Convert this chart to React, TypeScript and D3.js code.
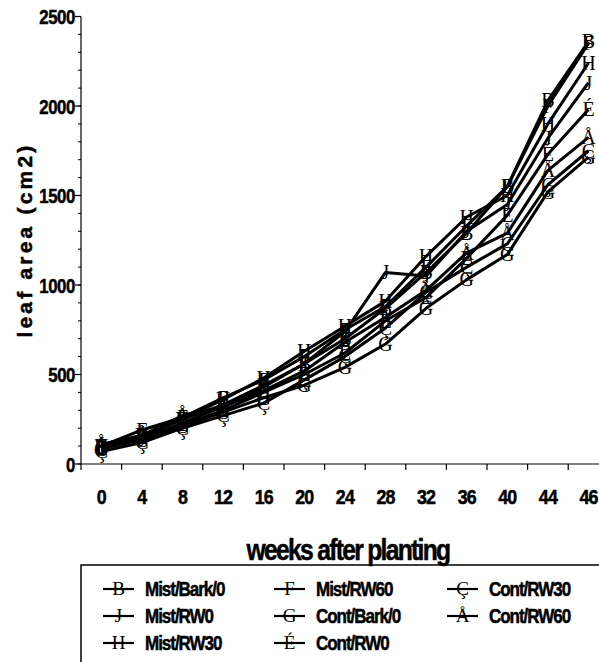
import React from "react";
import * as d3 from "d3";

const weeks = ["0", "4", "8", "12", "16", "20", "24", "28", "32", "36", "40", "44", "46"];

const seriesNames = ["Mist/Bark/0", "Mist/RW0", "Mist/RW30", "Mist/RW60", "Cont/Bark/0", "Cont/RW0", "Cont/RW30", "Cont/RW60"];
const seriesMarkers = ["B", "J", "H", "F", "G", "É", "Ç", "Å"];

const mistBark0 = [95, 150, 250, 330, 440, 560, 700, 870, 1070, 1290, 1550, 2030, 2360];
const mistRW0 = [90, 140, 230, 320, 430, 560, 740, 1070, 1050, 1300, 1450, 1820, 2130];
const mistRW30 = [100, 160, 250, 360, 480, 630, 770, 910, 1160, 1380, 1500, 1900, 2240];
const mistRW60 = [100, 190, 260, 370, 470, 600, 750, 880, 1100, 1330, 1550, 2000, 2350];
const contBark0 = [85, 135, 210, 290, 370, 440, 540, 670, 870, 1030, 1170, 1520, 1715];
const contRW0 = [90, 150, 220, 300, 400, 500, 620, 800, 930, 1150, 1390, 1730, 1980];
const contRW30 = [70, 120, 200, 270, 340, 470, 600, 760, 960, 1100, 1230, 1560, 1750];
const contRW60 = [110, 160, 270, 320, 410, 520, 680, 820, 970, 1180, 1290, 1640, 1825];

const seriesValues = [mistBark0, mistRW0, mistRW30, mistRW60, contBark0, contRW0, contRW30, contRW60];

const yTicks = [0, 500, 1000, 1500, 2000, 2500];
const yMinorTicks = d3.range(0, 2501, 100);

const legendOrder = [0, 1, 2, 3, 4, 5, 6, 7];

const W = 599;
const H = 662;
const x0 = 81;
const bandW = 40.6;
const x = d3.scaleBand<string>().domain(weeks).range([x0, x0 + bandW * weeks.length]).padding(0);
const y = d3.scaleLinear().domain([0, 2500]).range([464, 16.5]);

const sans = "'Liberation Sans', Arial, sans-serif";
const serif = "'Liberation Serif', 'Times New Roman', serif";

export default function App() {
  const line = d3
    .line<number>()
    .x((_, i) => (x(weeks[i]) as number) + x.bandwidth() / 2)
    .y((d) => y(d));

  const legendCols = [103, 274, 447];
  const legendRows = [589, 616, 643];
  const heavy = { stroke: "#000", strokeWidth: 0.5 };

  return (
    <svg width={W} height={H} style={{ position: "absolute", left: 0, top: 0, background: "#fff" }}>
      <rect x={0} y={0} width={W} height={H} fill="#fff" />
      {/* Y axis */}
      <line x1={x0} x2={x0} y1={y(2500)} y2={y(0)} stroke="#000" strokeWidth={1.2} />
      {yMinorTicks.map((t) => (
        <line key={"m" + t} x1={x0 - 3} x2={x0} y1={y(t)} y2={y(t)} stroke="#000" strokeWidth={1} />
      ))}
      {yTicks.map((t) => (
        <g key={t}>
          <line x1={x0 - 6} x2={x0} y1={y(t)} y2={y(t)} stroke="#000" strokeWidth={1.2} />
          <g transform={`translate(${x0 - 6},${y(t)}) scale(0.8,1)`}>
            <text
              x={0}
              y={0}
              dy="0.36em"
              textAnchor="end"
              fontFamily={sans}
              fontWeight="bold"
              fontSize={21}
              letterSpacing={-0.5}
              {...heavy}
            >
              {t}
            </text>
          </g>
        </g>
      ))}
      {/* X axis */}
      <line x1={x0} x2={W} y1={y(0)} y2={y(0)} stroke="#000" strokeWidth={1.2} />
      {weeks.map((w) => (
        <g key={w}>
          <line
            x1={x(w) as number}
            x2={x(w) as number}
            y1={y(0)}
            y2={y(0) + 6}
            stroke="#000"
            strokeWidth={1.2}
          />
          <g transform={`translate(${(x(w) as number) + x.bandwidth() / 2},496) scale(0.85,1)`}>
            <text
              x={0}
              y={0}
              dy="0.36em"
              textAnchor="middle"
              fontFamily={sans}
              fontWeight="bold"
              fontSize={21}
              letterSpacing={-1}
              {...heavy}
            >
              {w}
            </text>
          </g>
        </g>
      ))}
      <g transform="translate(348,550) scale(0.85,1)">
        <text
          x={0}
          y={0}
          dy="0.36em"
          textAnchor="middle"
          fontFamily={sans}
          fontWeight="bold"
          fontSize={29}
          letterSpacing={-2}
          {...heavy}
        >
          weeks after planting
        </text>
      </g>
      <text
        transform="translate(24,240) rotate(-90)"
        textAnchor="middle"
        dy="0.36em"
        fontFamily={sans}
        fontWeight="bold"
        fontSize={21}
        letterSpacing={3.2}
        {...heavy}
      >
        leaf area (cm2)
      </text>
      {/* series */}
      {seriesValues.map((vals, si) => (
        <g key={si}>
          <path d={line(vals) as string} fill="none" stroke="#000" strokeWidth={3} strokeLinejoin="round" />
          {vals.map((v, i) => (
            <text
              key={i}
              x={(x(weeks[i]) as number) + x.bandwidth() / 2}
              y={y(v)}
              dy="0.34em"
              textAnchor="middle"
              fontFamily={serif}
              fontSize={20}
              fill="#000"
            >
              {seriesMarkers[si]}
            </text>
          ))}
        </g>
      ))}
      {/* legend */}
      <rect x={81} y={565} width={W} height={H} fill="none" stroke="#000" strokeWidth={1.5} />
      {legendOrder.map((si, k) => {
        const col = Math.floor(k / 3);
        const row = k % 3;
        const lx = legendCols[col];
        const ly = legendRows[row];
        return (
          <g key={si}>
            <line x1={lx} x2={lx + 31} y1={ly} y2={ly} stroke="#000" strokeWidth={2.2} />
            <text x={lx + 15.5} y={ly} dy="0.34em" textAnchor="middle" fontFamily={serif} fontSize={19}>
              {seriesMarkers[si]}
            </text>
            <g transform={`translate(${lx + 42},${ly}) scale(0.85,1)`}>
              <text
                x={0}
                y={0}
                dy="0.36em"
                fontFamily={sans}
                fontWeight="bold"
                fontSize={20}
                letterSpacing={-1.2}
                {...heavy}
              >
                {seriesNames[si]}
              </text>
            </g>
          </g>
        );
      })}
    </svg>
  );
}
